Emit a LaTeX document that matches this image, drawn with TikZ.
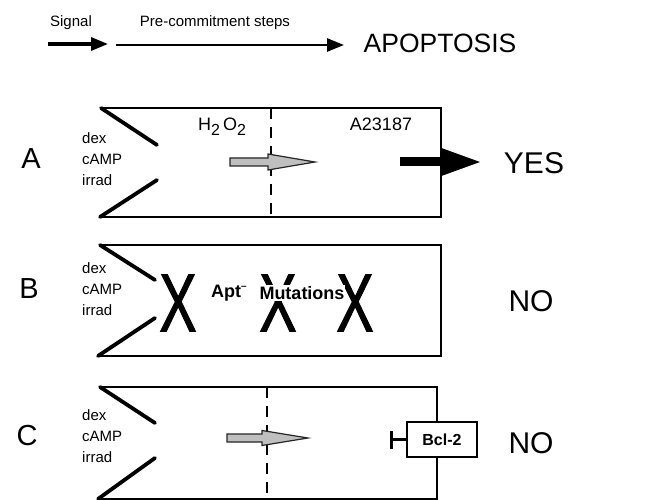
\documentclass[tikz,border=0pt]{standalone}
\usepackage{fontspec}
\setmainfont{Liberation Sans}
\usetikzlibrary{arrows.meta}
\begin{document}
\begin{tikzpicture}[x=1pt,y=-1pt,
  boxline/.style={line width=2.5pt, line join=miter, line cap=rect},
  notch/.style={line width=3.8pt, line cap=round},
  dashline/.style={line width=2.4pt, dash pattern=on 11pt off 8pt},
  lab/.style={font=\fontsize{15}{18}\selectfont, inner sep=0pt},
  stim/.style={font=\fontsize{15}{21}\selectfont, inner sep=0pt, align=left, anchor=west},
  mid/.style={font=\fontsize{18}{20}\selectfont, inner sep=0pt},
  result/.style={font=\fontsize{30}{32}\selectfont, inner sep=0pt},
  rowlab/.style={font=\fontsize{29}{30}\selectfont, inner sep=0pt},
  bigX/.style={font=\fontsize{82}{82}\selectfont\addfontfeature{FakeBold=1.5}, xscale=0.68, inner sep=0pt},
  mut/.style={font=\bfseries\fontsize{18}{20}\selectfont, inner sep=1pt, fill=white},
  sig/.style={line width=3.2pt, -{Triangle[length=17pt,width=13pt]}},
  grayarrow/.style={fill=gray!50, draw=black!85, line width=1.2pt, line join=miter},
]
\useasboundingbox (0,0) rectangle (657,500);

% ---- header ----
\node[lab, anchor=base] (sig) at (71,27) {Signal};
\node[lab, anchor=base] (pre) at (215,27) {Pre-commitment steps};
\node[font=\fontsize{26.5}{30}\selectfont, inner sep=0pt] (apo) at (440,43) {APOPTOSIS};
\coordinate (s1) at (48,44);  \coordinate (s2) at (108,44);
\coordinate (p1) at (116,45); \coordinate (p2) at (344,45);
\draw[sig] (s1) -- (s2);
\draw[sig, line width=2.6pt] (p1) -- (p2);

% ---- row A ----
\node[rowlab] (A) at (31,159) {A};
\node[stim] (stA) at (82,159) {dex\\cAMP\\irrad};
\draw[boxline] (101,108) -- (441,108) -- (441,217) -- (100,217);
\draw[notch] (101,108) -- (157,145);
\draw[notch] (100,217) -- (157,180);
\draw[dashline] (271,108) -- (271,217);
\node[mid] (h2o2) at (222,127) {H\raisebox{-0.3em}{\fontsize{16}{16}\selectfont 2}\,O\raisebox{-0.3em}{\fontsize{16}{16}\selectfont 2}};
\node[mid] (a23) at (381,124) {A23187};
\coordinate (gA) at (230,162);
\draw[grayarrow] (gA) ++(0,-4) -- ++(38,0) -- ++(0,-4) -- ++(47,8) -- ++(-47,8) -- ++(0,-4) -- ++(-38,0) -- cycle;
\coordinate (bA1) at (400,162); \coordinate (bA2) at (482,162);
\draw[line width=9pt, -{Triangle[length=42pt,width=26pt]}] (bA1) -- (bA2);
\node[result] (yes) at (534,163) {YES};

% ---- row B ----
\node[rowlab] (B) at (29,289) {B};
\node[stim] (stB) at (82,289) {dex\\cAMP\\irrad};
\draw[boxline] (100,245) -- (441,245) -- (441,356) -- (98,356);
\draw[notch] (100,245) -- (155,280);
\draw[notch] (98,356) -- (155,318);
\node[bigX] (x1) at (178,303) {X};
\node[bigX] (x2) at (278,303) {X};
\node[bigX] (x3) at (355,303) {X};
\node[mut, fill=none] (apt) at (229,293) {Apt\raisebox{0.45em}{\fontsize{10}{10}\selectfont --}};
\node[mut] (mu) at (302,293) {Mutations};
\node[result] (noB) at (531,301) {NO};

% ---- row C ----
\node[rowlab] (C) at (27,436) {C};
\node[stim] (stC) at (82,436) {dex\\cAMP\\irrad};
\node[draw, line width=2.2pt, minimum width=70pt, minimum height=35pt, inner sep=0pt,
      font=\bfseries\fontsize{16}{18}\selectfont] (bcl) at (442,439.5) {Bcl-2};
\draw[boxline] (bcl.north -| 437,0) -- (437,387) -- (100,387);
\draw[boxline] (bcl.south -| 437,0) -- (437,499) -- (98,499);
\draw[notch] (100,387) -- (155,423);
\draw[notch] (98,499) -- (155,458);
\draw[dashline] (267,387) -- (267,500);
\coordinate (gC) at (227,438);
\draw[grayarrow] (gC) ++(0,-4) -- ++(35,0) -- ++(0,-3.5) -- ++(46,7.5) -- ++(-46,7.5) -- ++(0,-3.5) -- ++(-35,0) -- cycle;
\coordinate (bar) at (390,439.5);
\draw[line width=2.4pt, -{Bar[width=18pt,line width=3pt]}] (bcl.west) -- (bar);
\node[result] (noC) at (531,443) {NO};
\end{tikzpicture}
\end{document}
